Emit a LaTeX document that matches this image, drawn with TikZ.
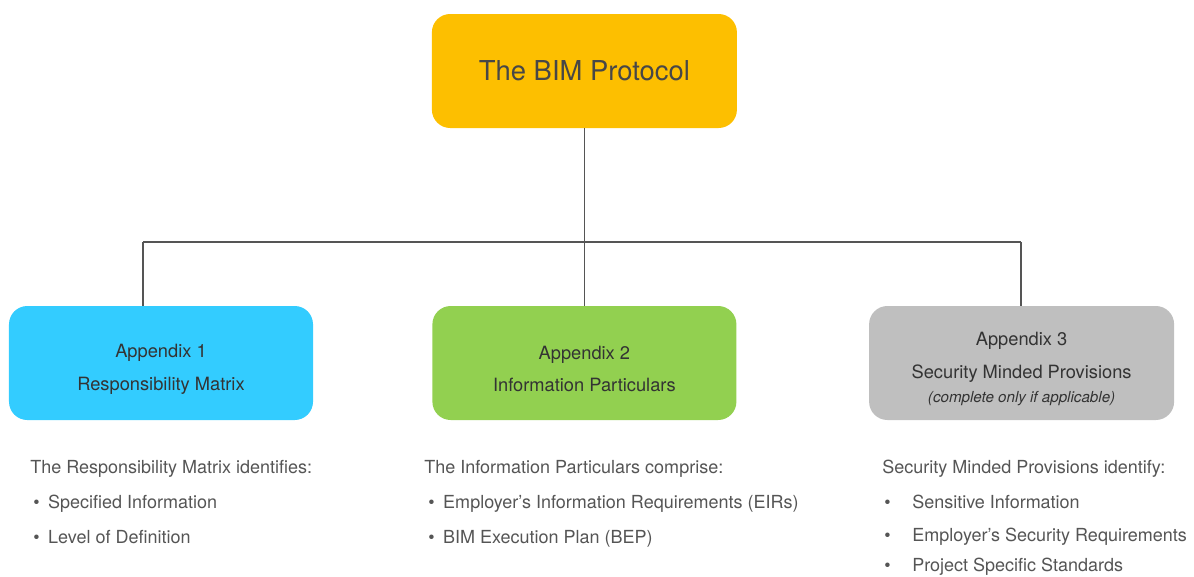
\documentclass[tikz,border=0pt]{standalone}
\usepackage{fontspec}
\setmainfont{TeX Gyre Heros}
\usepackage{xcolor}
\usepackage{tikz}
\usetikzlibrary{positioning,calc}

\definecolor{protoorange}{HTML}{FDBF00}
\definecolor{appblue}{HTML}{33CCFF}
\definecolor{appgreen}{HTML}{92D050}
\definecolor{appgray}{HTML}{BFBFBF}
\definecolor{boxtext}{HTML}{333333}
\definecolor{listtext}{HTML}{555555}
\definecolor{linkgray}{HTML}{555555}

\newcommand{\lbul}[1]{\makebox[10.6pt][l]{\textbullet}#1}
\newcommand{\rbul}[1]{\makebox[19.9pt][l]{\textbullet}#1}
\newcommand{\topstrut}{\rule{0pt}{18pt}}

\begin{document}
\begin{tikzpicture}[
  appbox/.style={draw=none, rounded corners=13pt, align=center, text=boxtext,
    minimum width=7.6cm, minimum height=2.85cm,
    font=\fontsize{13}{23.4}\selectfont},
  listline/.style={anchor=base west, inner sep=0pt, text=listtext,
    font=\fontsize{12.8}{15}\selectfont},
  link/.style={draw=linkgray, line width=1pt},
]
\useasboundingbox (0,0) rectangle (29.85,-14.4);

\node[appbox, fill=protoorange, minimum width=7.625cm, text=boxtext!90,
      font=\fontsize{19.5}{23}\selectfont] (proto) at (14.61,-1.775) {The BIM Protocol};

\node[appbox, fill=appblue] (app1) at (4.025,-9.075)
  {\topstrut Appendix 1\\Responsibility Matrix};
\node[appbox, fill=appgreen] (app2) at (14.61,-9.075)
  {\topstrut Appendix 2\\Information Particulars};
\node[appbox, fill=appgray, minimum width=7.625cm] (app3) at (25.54,-9.075)
  {\topstrut Appendix 3\\Security Minded Provisions\\[-6pt]
   {\fontsize{10.8}{13}\selectfont\itshape (complete only if applicable)}};

% connectors
\coordinate (bus) at (14.61,-6.05);
\coordinate (busleft) at (3.575,-6.05);
\coordinate (busright) at (25.525,-6.05);
\draw[link] (proto.south) -- (bus);
\draw[link] (bus) -- (app2.north);
\draw[link] (busleft) -- (busright);
\draw[link] (busleft) -- (busleft |- app1.north);
\draw[link] (busright) -- (busright |- app3.north);

% lists below the boxes
\node[listline] (rmhead) at (0.75,-11.825) {The Responsibility Matrix identifies:};
\node[listline] (rmone)  at (0.825,-12.72) {\lbul{Specified Information}};
\node[listline] (rmtwo)  at (0.825,-13.575) {\lbul{Level of Definition}};

\node[listline] (iphead) at (10.6,-11.825) {The Information Particulars comprise:};
\node[listline] (ipone)  at (10.7,-12.72) {\lbul{Employer’s Information Requirements (EIRs)}};
\node[listline] (iptwo)  at (10.7,-13.575) {\lbul{BIM Execution Plan (BEP)}};

\node[listline] (smhead)  at (22.05,-11.825) {Security Minded Provisions identify:};
\node[listline] (smone)   at (22.1,-12.7) {\rbul{Sensitive Information}};
\node[listline] (smtwo)   at (22.1,-13.53) {\rbul{Employer’s Security Requirements}};
\node[listline] (smthree) at (22.1,-14.29) {\rbul{Project Specific Standards}};
\end{tikzpicture}
\end{document}
